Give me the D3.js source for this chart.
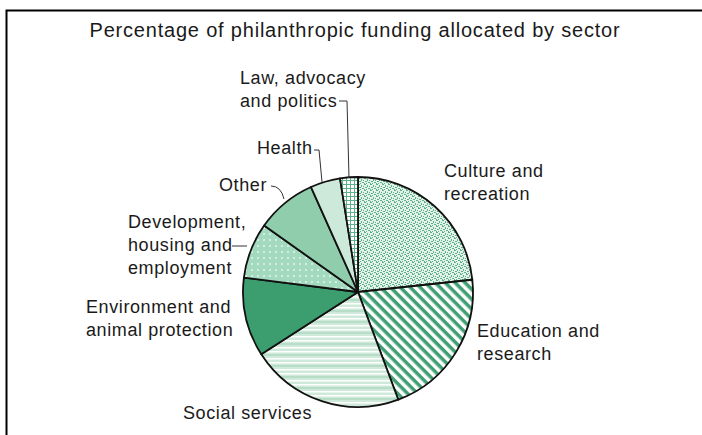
<!DOCTYPE html>
<html>
<head>
<meta charset="utf-8">
<script src="https://cdn.jsdelivr.net/npm/d3@7"></script>
<style>
  body { margin: 0; background: #fff; }
  text { font-family: "Liberation Sans", Arial, sans-serif; fill: #1a1a1a; }
  .title { font-size: 20px; letter-spacing: 0.8px; }
  .label { font-size: 18px; letter-spacing: 0.6px; }
</style>
</head>
<body>
<div id="chart"></div>
<script>
// sectors, clockwise from 12 o'clock
var sectors = ["Culture and recreation", "Education and research", "Social services",
  "Environment and animal protection", "Development, housing and employment",
  "Other", "Health", "Law, advocacy and politics"];
var shares = [23.3, 21.0, 21.6, 11.1, 7.8, 8.5, 4.2, 2.5];
var fills = ["url(#pCulture)", "url(#pEdu)", "url(#pSocial)", "#3c9e6f",
  "url(#pDev)", "#8fcdac", "#cde9da", "url(#pLaw)"];

var width = 702, height = 435;
var cx = 358, cy = 292, r = 115;

var svg = d3.select("#chart").append("svg")
    .attr("width", width)
    .attr("height", height);

var defs = svg.append("defs");

// stipple for culture
var pc = defs.append("pattern").attr("id", "pCulture")
    .attr("patternUnits", "userSpaceOnUse").attr("width", 6).attr("height", 6);
pc.append("rect").attr("width", 6).attr("height", 6).attr("fill", "#e3f3ea");
[[0,0,2,1],[3,1,1,2],[1,3,2,1],[4,4,2,1],[0,5,1,1],[5,2,1,1],[2,5,1,1]].forEach(function(d) {
  pc.append("rect").attr("x", d[0]).attr("y", d[1]).attr("width", d[2]).attr("height", d[3])
    .attr("fill", "#5eb08a");
});

// diagonal stripes for education
var pe = defs.append("pattern").attr("id", "pEdu")
    .attr("patternUnits", "userSpaceOnUse").attr("width", 7).attr("height", 7)
    .attr("patternTransform", "rotate(45)");
pe.append("rect").attr("width", 7).attr("height", 7).attr("fill", "#fff");
pe.append("rect").attr("width", 7).attr("height", 3.5).attr("fill", "#3f9f72");

// horizontal lines for social services
var ps = defs.append("pattern").attr("id", "pSocial")
    .attr("patternUnits", "userSpaceOnUse").attr("width", 10).attr("height", 11);
ps.append("rect").attr("width", 10).attr("height", 11).attr("fill", "#cfe9da");
ps.append("rect").attr("y", 0).attr("width", 10).attr("height", 1.5).attr("fill", "#fff");
ps.append("rect").attr("y", 4).attr("width", 10).attr("height", 1.5).attr("fill", "#fff");
ps.append("rect").attr("y", 7.5).attr("width", 10).attr("height", 1).attr("fill", "#9fd2b6");

// dots for development
var pd = defs.append("pattern").attr("id", "pDev")
    .attr("patternUnits", "userSpaceOnUse").attr("width", 6).attr("height", 6);
pd.append("rect").attr("width", 6).attr("height", 6).attr("fill", "#a3d9bf");
pd.append("rect").attr("x", 1).attr("y", 1).attr("width", 2).attr("height", 2).attr("fill", "#d2eee0");

// grid for law
var pl = defs.append("pattern").attr("id", "pLaw")
    .attr("patternUnits", "userSpaceOnUse").attr("width", 4).attr("height", 4);
pl.append("rect").attr("width", 4).attr("height", 4).attr("fill", "#fff");
pl.append("rect").attr("width", 4).attr("height", 1).attr("fill", "#5fb08a");
pl.append("rect").attr("width", 1).attr("height", 4).attr("fill", "#5fb08a");

// frame
svg.append("path")
    .attr("d", "M6.5,435 L6.5,10.5 L702,10.5")
    .attr("fill", "none").attr("stroke", "#000").attr("stroke-width", 2);

svg.append("text").attr("class", "title")
    .attr("x", 355).attr("y", 37).attr("text-anchor", "middle")
    .text("Percentage of philanthropic funding allocated by sector");

var pie = d3.pie().sort(null).value(function(d) { return d; })
    .startAngle(0).endAngle(2 * Math.PI);
var arc = d3.arc().innerRadius(0).outerRadius(r);

var g = svg.append("g").attr("transform", "translate(" + cx + "," + cy + ")");
g.selectAll("path.slice")
    .data(pie(shares))
  .enter().append("path")
    .attr("class", "slice")
    .attr("d", arc)
    .attr("fill", function(d, i) { return fills[i]; })
    .attr("stroke", "#111")
    .attr("stroke-width", 1.8)
    .attr("stroke-linejoin", "round");

// labels
var labels = [
  { lines: ["Culture and", "recreation"], x: 444, y: 177 },
  { lines: ["Education and", "research"], x: 477, y: 337 },
  { lines: ["Social services"], x: 183, y: 419 },
  { lines: ["Environment and", "animal protection"], x: 86, y: 313 },
  { lines: ["Development,", "housing and", "employment"], x: 128, y: 228 },
  { lines: ["Other"], x: 219, y: 191 },
  { lines: ["Health"], x: 257, y: 154 },
  { lines: ["Law, advocacy", "and politics"], x: 240, y: 84 }
];
labels.forEach(function(l) {
  var t = svg.append("text").attr("class", "label")
      .attr("x", l.x).attr("y", l.y);
  l.lines.forEach(function(s, i) {
    t.append("tspan").attr("x", l.x).attr("dy", i === 0 ? 0 : 23).text(s);
  });
});

// leader lines
var leaders = [
  "M339,101 L347,101 L349,178",
  "M314,150 L319,150 L322,182",
  "M271,186 Q281,186 284,199",
  "M232,246 L247,246"
];
leaders.forEach(function(d) {
  svg.append("path").attr("d", d).attr("fill", "none")
    .attr("stroke", "#333").attr("stroke-width", 1);
});
</script>
</body>
</html>
